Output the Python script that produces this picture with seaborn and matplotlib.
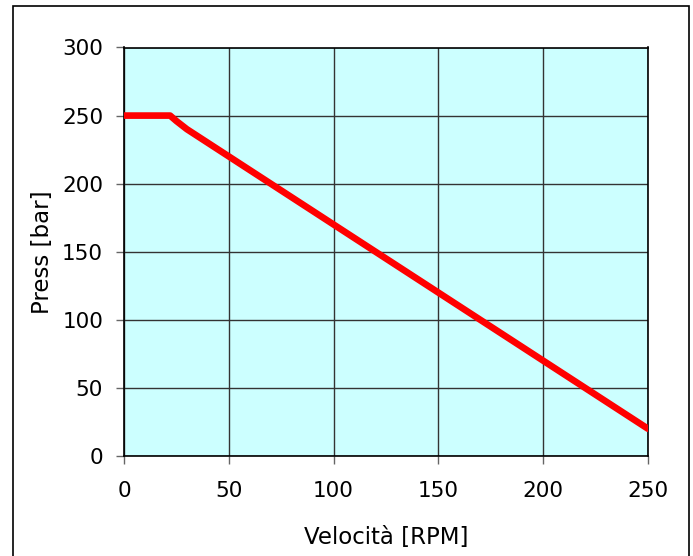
import pandas as pd
import seaborn as sns
import matplotlib
matplotlib.use("Agg")
import matplotlib.pyplot as plt
from matplotlib.patches import Rectangle

# Data
speed = [0, 10, 20, 22, 25, 30, 40, 50, 60, 70, 80, 90, 100, 110, 120, 130,
         140, 150, 160, 170, 180, 190, 200, 210, 220, 230, 240, 250]
pressure = [250, 250, 250, 250, 246, 240, 230, 220, 210, 200, 190, 180, 170, 160,
            150, 140, 130, 120, 110, 100, 90, 80, 70, 60, 50, 40, 30, 20]
x_ticks = [0, 50, 100, 150, 200, 250]
y_ticks = [0, 50, 100, 150, 200, 250, 300]

df = pd.DataFrame({"Velocita": speed, "Press": pressure})

sns.set_style("white")
plt.rcParams["font.family"] = ["DejaVu Sans"]

fig = plt.figure(figsize=(6.93, 5.56), dpi=100)
ax = fig.add_axes([124 / 693, 100 / 556, 524 / 693, 408.5 / 556])
ax.set_facecolor("#ccffff")

sns.lineplot(data=df, x="Velocita", y="Press", ax=ax, color="#ff0000",
             linewidth=4.8, solid_capstyle="round", solid_joinstyle="round",
             zorder=3)

ax.set_xlim(0, 250)
ax.set_ylim(0, 300)
ax.set_xticks(x_ticks)
ax.set_yticks(y_ticks)
ax.grid(True, color="#333333", linewidth=1.0)
ax.set_axisbelow(True)

for s in ax.spines.values():
    s.set_color("black")
    s.set_linewidth(1.2)

ax.tick_params(axis="both", which="both", direction="out", length=6,
               width=1, color="#666666", labelsize=15.5, labelcolor="black")
ax.tick_params(axis="y", pad=9)
ax.tick_params(axis="x", pad=12)
ax.xaxis.set_ticks_position("bottom")
ax.yaxis.set_ticks_position("left")

ax.set_xlabel("Velocità [RPM]", fontsize=16.5, labelpad=18, color="black")
ax.set_ylabel("Press [bar]", fontsize=16.5, labelpad=6, color="black")

# outer chart frame
fig.patches.append(Rectangle((13 / 693, -0.01), 676 / 693, (550 / 556) + 0.01,
                             transform=fig.transFigure, fill=False,
                             edgecolor="black", linewidth=1.2))

plt.savefig("out.png", dpi=100)
